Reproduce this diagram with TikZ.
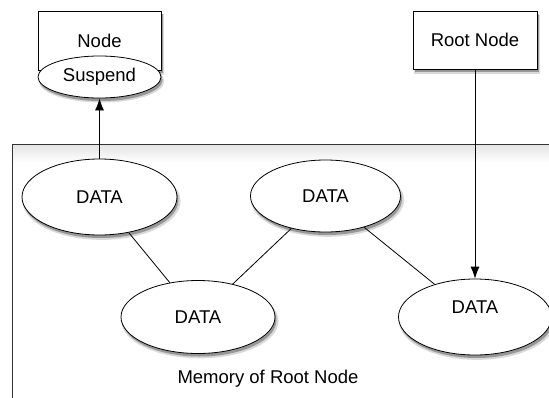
\documentclass[tikz,border=0pt]{standalone}
\usepackage{fontspec}
\setmainfont{Liberation Sans}
\usetikzlibrary{arrows.meta,shapes.geometric,shadows}

\tikzset{
  softshadow/.style={
    drop shadow={shadow xshift=2pt, shadow yshift=-4pt, opacity=0.15, fill=black, shadow scale=1.02},
    drop shadow={shadow xshift=1.5pt, shadow yshift=-3pt, opacity=0.3, fill=black}},
  databox/.style={ellipse, draw, fill=white, line width=0.8pt, inner sep=0pt, softshadow},
  nodebox/.style={rectangle, draw, fill=white, line width=0.8pt, inner sep=0pt, softshadow},
  label text/.style={font=\fontsize{18.5}{20}\selectfont},
  link/.style={line width=0.8pt},
  pointer/.style={line width=0.8pt, -{Latex[length=12pt,width=9pt]}}
}

\begin{document}
\begin{tikzpicture}[x=1pt, y=-1pt]
  %%%%% START %%%%%
  \useasboundingbox (0,0) rectangle (549,397);
  \clip (0,0) rectangle (549,397);

  % memory area
  \draw[line width=1.2pt, draw=black!80, fill=white] (12.5,145) rectangle (600,450);
  \shade[top color=black!10, bottom color=white] (13.1,145.6) rectangle (549,162);
  \node[label text] (memlabel) at (268,379) {Memory of Root Node};

  % top boxes
  \node[nodebox, label text, minimum width=123pt, minimum height=59pt] (node) at (99.5,40.5) {Node};
  \node[databox, label text, minimum width=123pt, minimum height=42pt] (susp) at (99.5,77) {Suspend};
  \node[nodebox, label text, minimum width=124pt, minimum height=58pt] (root) at (475,40) {Root Node};

  % data nodes
  \node[databox, label text, minimum width=155pt, minimum height=76pt] (d1) at (99.5,197) {DATA};
  \node[databox, label text, minimum width=150pt, minimum height=72pt] (d2) at (325.5,196) {DATA};
  \node[databox, label text, minimum width=154pt, minimum height=73pt] (d3) at (198,317) {DATA};
  \node[databox, minimum width=153pt, minimum height=76pt] (d4) at (475,317) {};
  \node[label text] (d4txt) at ([yshift=10pt]d4.center) {DATA};

  \draw[link] (d1) -- (d3);
  \draw[link] (d2) -- (d3);
  \draw[link] (d2) -- (d4);

  \draw[pointer] (d1.north) -- (susp.south);
  \draw[pointer] (root.south) -- (d4.north);
  %%%%% END %%%%%
\end{tikzpicture}
\end{document}
